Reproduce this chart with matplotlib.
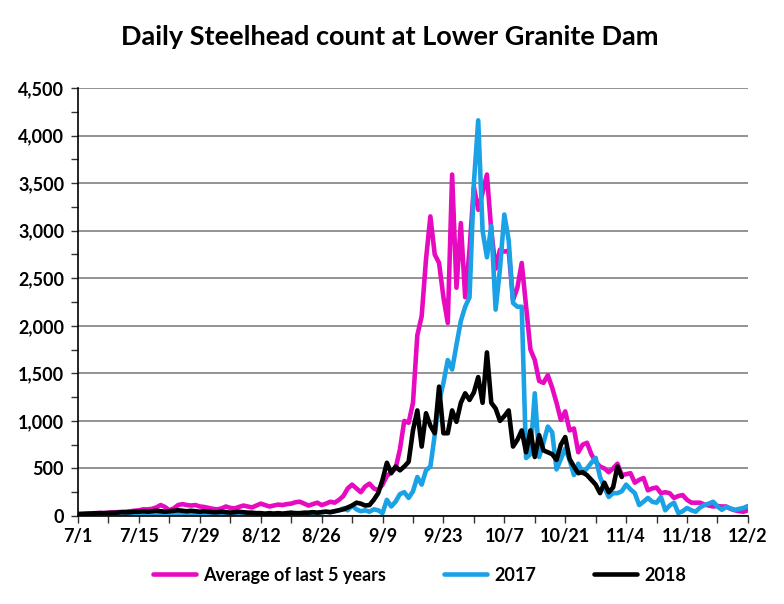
import numpy as np
import pandas as pd
import matplotlib
matplotlib.use('Agg')
import matplotlib.pyplot as plt
from matplotlib.ticker import FuncFormatter, MultipleLocator

plt.rcParams['font.family'] = ['Lato', 'DejaVu Sans']
plt.rcParams['font.weight'] = 'bold'

# daily counts 7/1 - 12/2
dates = pd.date_range('2018-07-01', '2018-12-02', freq='D')

avg5 = [20, 22, 25, 28, 30, 32, 30, 35, 38, 40, 42, 45, 50, 55,
        60, 70, 70, 75, 90, 115, 95, 60, 80, 115, 125, 115, 110, 115, 100, 95,
        85, 75, 70, 80, 100, 85, 80, 95, 110, 100, 90, 110, 130, 115, 100, 110,
        120, 115, 125, 130, 145, 150, 130, 110, 125, 140, 115, 130, 150, 140,
        170, 210, 290, 330, 290, 250, 310, 340, 290, 270, 330, 420, 460, 500,
        700, 1000, 980, 1190, 1900, 2100, 2700, 3150, 2750, 2660, 2300, 2030,
        3590, 2400, 3080, 2300, 2800, 3460, 3220, 3400, 3590, 3000, 2600, 2800,
        2780, 2790, 2270, 2400, 2660, 2200, 1750, 1640, 1420, 1400, 1480, 1350,
        1190, 1010, 1100, 900, 920, 670, 750, 770, 650, 570, 520, 500, 460, 500,
        550, 430, 440, 450, 350, 380, 400, 270, 290, 300, 240, 250, 240, 190,
        210, 220, 170, 140, 140, 140, 120, 110, 100, 105, 100, 100, 75, 60, 50,
        45, 60]

y2017 = [10, 10, 12, 10, 8, 10, 12, 10, 15, 12, 10, 15, 15, 12,
         15, 15, 20, 18, 25, 30, 20, 25, 25, 30, 25, 25, 30, 20, 20, 18, 15,
         15, 15, 15, 20, 15, 15, 20, 18, 15, 15, 20, 20, 15, 15, 20, 25, 20, 20,
         25, 30, 25, 20, 30, 35, 30,
         40, 45, 40, 50, 60, 80, 60, 110, 70, 50, 60, 45, 70, 60,
         30, 170, 100, 150, 230, 250, 190, 260, 410, 330, 480, 520, 850, 1200,
         1400, 1640, 1540, 1800, 2050, 2200, 2300, 3500, 4160, 3000, 2720, 3050,
         2170, 2600, 3170, 2900, 2240, 2200, 2200, 610, 650, 1290, 620, 770, 940,
         880, 490, 600, 710, 590, 430, 550, 450, 500, 560, 610, 410, 300, 200,
         240, 240, 260, 330, 280, 240, 115, 150, 190, 150, 140, 200, 60, 110,
         140, 30, 50, 85, 60, 45, 90, 115, 130, 150, 100, 65, 95, 80, 65, 75,
         85, 105]

y2018 = [20, 22, 25, 25, 28, 30, 30, 32, 35, 35, 40, 38, 40, 45,
         45, 50, 45, 50, 55, 50, 45, 50, 55, 60, 55, 50, 55, 50, 45, 50, 45,
         40, 40, 45, 40, 35, 40, 45, 40, 35, 35, 30, 30, 25, 30, 25, 30, 25, 30,
         35, 30, 30, 35, 35, 40, 35,
         40, 45, 40, 50, 60, 70, 90, 110, 140, 130, 110, 115, 170, 240,
         380, 560, 450, 520, 480, 520, 570, 900, 1110, 730, 1080, 950, 870, 1360,
         870, 870, 1110, 990, 1190, 1290, 1220, 1300, 1460, 1190, 1720, 1190,
         1130, 1000, 1050, 1110, 730, 800, 900, 670, 900, 620, 850, 690, 670,
         650, 590, 750, 830, 600, 520, 450, 460, 430, 380, 330, 240, 350, 250,
         300, 520, 410]
y2018 = y2018 + [np.nan] * (len(dates) - len(y2018))

series_labels = ['Average of last 5 years', '2017', '2018']
series_colors = ['#E80AC0', '#1BA1E6', '#000000']

x = np.arange(len(dates))

fig = plt.figure(figsize=(7.84, 6.04), dpi=100)
ax = fig.add_axes([0.0995, 0.1457, 0.8545, 0.7086])

for vals, lab, col in zip([avg5, y2017, y2018], series_labels, series_colors):
    ax.plot(x, vals, color=col, lw=3.3, label=lab,
            solid_joinstyle='round', solid_capstyle='round')

ax.set_xlim(0, len(dates) - 1)
ax.set_ylim(0, 4500)

# x ticks every week, labels every two weeks
ax.set_xticks(x[::7])
ax.set_xticklabels([f'{d.month}/{d.day}' if i % 2 == 0 else ''
                    for i, d in enumerate(dates[::7])])
ax.yaxis.set_major_locator(MultipleLocator(500))
ax.yaxis.set_minor_locator(MultipleLocator(250))
ax.yaxis.set_major_formatter(FuncFormatter(lambda v, p: f'{int(v):,}'))

ax.tick_params(axis='both', which='both', direction='out', length=5,
               width=1, labelsize=13, color='#333333')
ax.tick_params(axis='y', pad=5)
ax.tick_params(axis='x', pad=4)
for lbl in ax.get_xticklabels() + ax.get_yticklabels():
    lbl.set_fontweight('bold')

ax.grid(axis='y', which='major', color='#8a8a8a', lw=1.3)
ax.set_axisbelow(True)
ax.spines['top'].set_visible(False)
ax.spines['right'].set_visible(False)
ax.spines['left'].set_linewidth(1.2)
ax.spines['bottom'].set_linewidth(1.2)

fig.suptitle('Daily Steelhead count at Lower Granite Dam', x=0.497, y=0.958,
             fontsize=19.5, fontweight='bold')

fig.legend(loc='center', bbox_to_anchor=(0.535, 0.048), ncol=3, frameon=False,
           handlelength=2.4, handletextpad=0.4, columnspacing=3.2,
           prop={'weight': 'bold', 'size': 13})

fig.savefig('out.png', dpi=100)
